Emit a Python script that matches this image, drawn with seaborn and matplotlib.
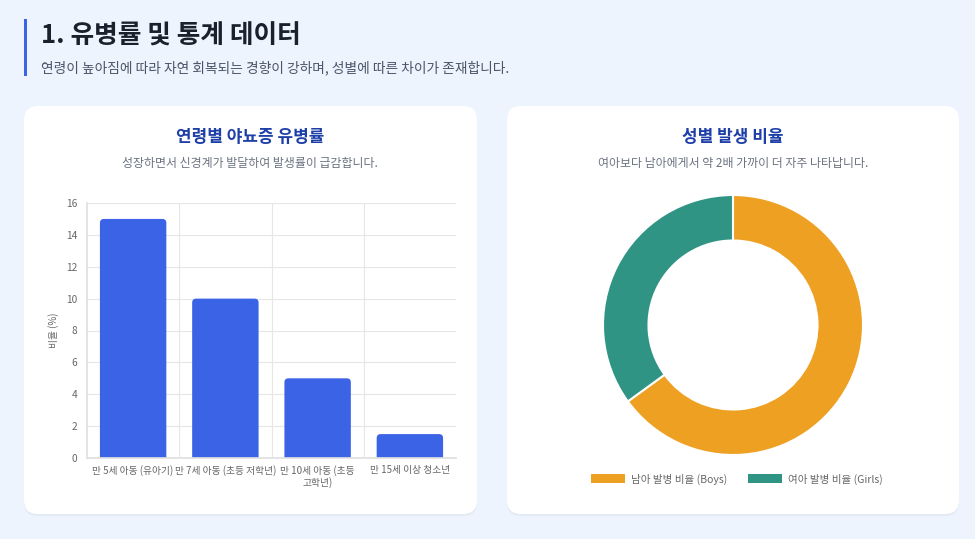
import numpy as np
import pandas as pd
import matplotlib
matplotlib.use('Agg')
import matplotlib.pyplot as plt
import seaborn as sns
from matplotlib.patches import FancyBboxPatch, Rectangle, Patch
from matplotlib.transforms import IdentityTransform

# 데이터
age_groups = ['만 5세 아동 (유아기)', '만 7세 아동 (초등 저학년)', '만 10세 아동 (초등\n고학년)', '만 15세 이상 청소년']
prevalence = [15, 10, 5, 1.5]
y_ticks = [0, 2, 4, 6, 8, 10, 12, 14, 16]

gender_labels = ['남아 발병 비율 (Boys)', '여아 발병 비율 (Girls)']
gender_share = [65, 35]
gender_colors = ['#EEA023', '#2F9483']

sns.set_theme(style='white')
plt.rcParams['font.family'] = ['Noto Sans CJK KR', 'DejaVu Sans']

W, H = 975, 539
fig = plt.figure(figsize=(W / 100, H / 100), dpi=100)
fig.patch.set_facecolor('#EEF4FD')

def px(x, y):
    return x / W, 1 - y / H

# 헤더
fig.add_artist(Rectangle((24, H - 76), 2.5, 57, transform=IdentityTransform(),
                         facecolor='#3B63E6', edgecolor='none', zorder=-5))
fig.text(*px(41, 36), '1. 유병률 및 통계 데이터', fontsize=18.5, fontweight='bold',
         color='#1A202C', va='center', ha='left')
fig.text(*px(41, 68), '연령이 높아짐에 따라 자연 회복되는 경향이 강하며, 성별에 따른 차이가 존재합니다.',
         fontsize=9.9, color='#4A5568', va='center', ha='left')

# 카드
for x0, x1 in [(24, 477), (507, 959)]:
    fig.add_artist(FancyBboxPatch((x0, H - 514 - 2), x1 - x0, 408,
                                  boxstyle='round,pad=0,rounding_size=14',
                                  transform=IdentityTransform(),
                                  facecolor='#DCE4EF', edgecolor='none', alpha=0.6, zorder=-10))
    fig.add_artist(FancyBboxPatch((x0, H - 514), x1 - x0, 408,
                                  boxstyle='round,pad=0,rounding_size=14',
                                  transform=IdentityTransform(),
                                  facecolor='white', edgecolor='none', zorder=-9))

fig.text(*px(250, 137), '연령별 야뇨증 유병률', fontsize=12.2, fontweight='bold',
         color='#1E3FA8', ha='center', va='center')
fig.text(*px(250, 164), '성장하면서 신경계가 발달하여 발생률이 급감합니다.', fontsize=8.6,
         color='#6B7280', ha='center', va='center')
fig.text(*px(733, 137), '성별 발생 비율', fontsize=12.2, fontweight='bold',
         color='#1E3FA8', ha='center', va='center')
fig.text(*px(733, 164), '여아보다 남아에게서 약 2배 가까이 더 자주 나타납니다.', fontsize=8.6,
         color='#6B7280', ha='center', va='center')

# 막대 그래프
ax = fig.add_axes([87 / W, 81 / H, 369 / W, 255 / H])
df = pd.DataFrame({'age': age_groups, 'rate': prevalence})
sns.barplot(data=df, x='age', y='rate', color='#3B63E6', saturation=1, width=0.72, ax=ax)
ax.set_facecolor('none')
ax.set_xlim(-0.5, len(age_groups) - 0.5)
ax.set_ylim(0, 16)

# 막대 윗모서리 둥글게 (아래쪽은 축 밖으로 잘림)
x_px = 369 / len(age_groups)
y_px = 255 / 16
for bar in list(ax.patches):
    bx, bw, bh = bar.get_x(), bar.get_width(), bar.get_height()
    bar.remove()
    ax.add_patch(FancyBboxPatch((bx, -0.5), bw, bh + 0.5,
                                boxstyle=f'round,pad=0,rounding_size={4 / x_px}',
                                mutation_aspect=x_px / y_px,
                                facecolor='#3B63E6', edgecolor='none', zorder=2))

ax.set_yticks(y_ticks)
ax.set_yticklabels([str(t) for t in y_ticks])
for t in y_ticks:
    ax.axhline(t, color='#E6E6E6', linewidth=0.8, zorder=0)
for b in np.arange(0.5, len(age_groups) - 0.5):
    ax.axvline(b, color='#E6E6E6', linewidth=0.8, zorder=0)
ax.set_xticks(np.arange(-0.5, len(age_groups)), minor=True)
ax.tick_params(axis='x', which='minor', length=6, color='#E6E6E6', width=0.8)
ax.tick_params(axis='x', which='major', length=0, pad=5, labelsize=7, labelcolor='#666666')
ax.tick_params(axis='y', length=0, pad=7, labelsize=7.3, labelcolor='#666666')
for s in ['top', 'right']:
    ax.spines[s].set_visible(False)
ax.spines['left'].set_color('#E0E0E0')
ax.spines['bottom'].set_color('#E0E0E0')
ax.set_xlabel('')
ax.set_ylabel('비율 (%)', fontsize=7, color='#666666', labelpad=5)
for lab in ax.get_xticklabels():
    lab.set_linespacing(1.1)

# 도넛 차트
ax2 = fig.add_axes([(733 - 130) / W, (539 - 455) / H, 260 / W, 260 / H])
ax2.pie(gender_share, colors=gender_colors, startangle=90, counterclock=False,
        radius=1, wedgeprops=dict(width=0.35, edgecolor='white', linewidth=1.5))
ax2.set_xlim(-1, 1)
ax2.set_ylim(-1, 1)
ax2.set_aspect('equal')

handles = [Patch(facecolor=c, edgecolor='none') for c in gender_colors]
fig.legend(handles, gender_labels, loc='center', bbox_to_anchor=px(737, 479), ncol=2,
           frameon=False, fontsize=7.6, labelcolor='#666666', handlelength=3.2,
           handleheight=0.9, handletextpad=0.6, columnspacing=2.0)

fig.savefig('out.png', dpi=100, facecolor=fig.get_facecolor())
